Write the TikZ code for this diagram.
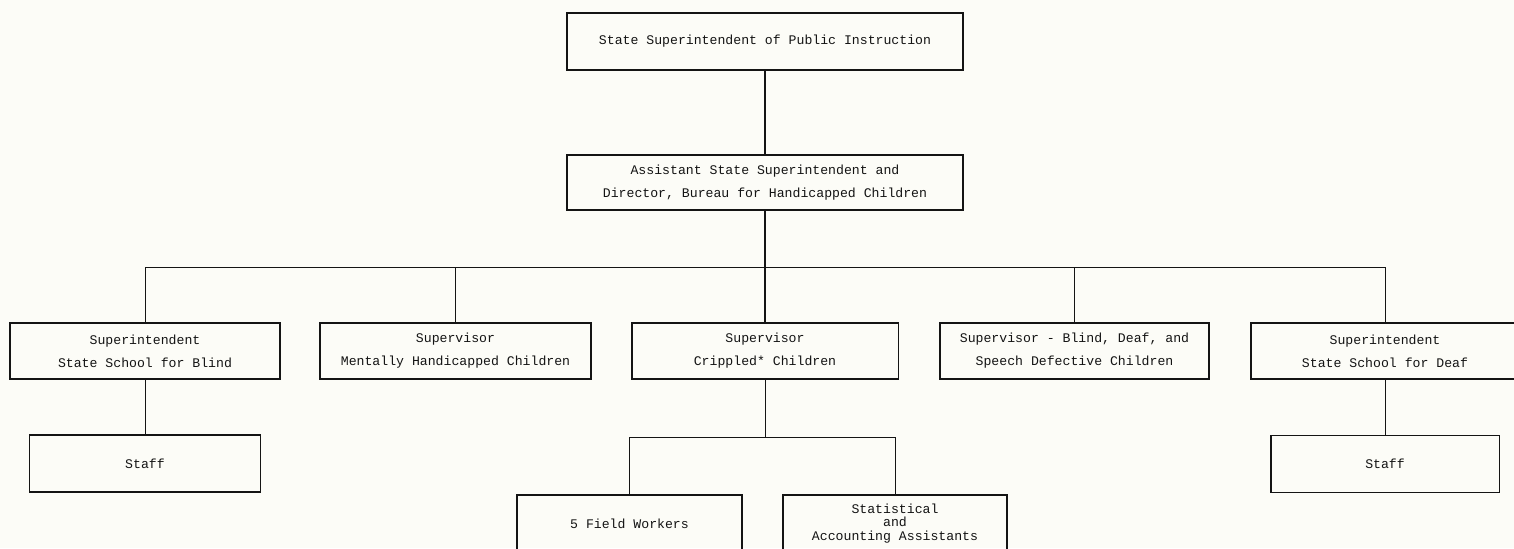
\documentclass[tikz,border=0pt]{standalone}
\usepackage{fontspec}
\setmonofont{Liberation Mono}
\usepackage{tikz}
\usetikzlibrary{positioning}
\usepackage{xcolor}
\definecolor{paper}{RGB}{252,252,247}
\definecolor{ink}{RGB}{20,20,20}

\begin{document}
\begin{tikzpicture}[x=0.02cm,y=-0.02cm,
  box/.style={draw=ink,line width=1.1pt,text=ink,align=center,inner sep=2pt,
    font=\ttfamily\fontsize{7.5}{13}\selectfont},
  link/.style={draw=ink,line width=0.55pt},
  spine/.style={draw=ink,line width=0.85pt}]
\useasboundingbox (0,0) rectangle (1514,548);
\fill[paper] (0,0) rectangle (1514,548);
\clip (0,0) rectangle (1514,548);
% top of the chart
\node[box,minimum width=7.92cm,minimum height=1.14cm] (top) at (765,41.5) {State Superintendent of Public Instruction};
\node[box,minimum width=7.92cm,minimum height=1.10cm] (asst) at (765,182.5) {Assistant State Superintendent and\\Director, Bureau for Handicapped Children};
% the five divisions
\node[box,minimum width=5.40cm,minimum height=1.12cm] (blind) at (145,351) {Superintendent\\State School for Blind};
\node[box,minimum width=5.42cm,minimum height=1.12cm] (mental) at (455.5,351) {Supervisor\\Mentally Handicapped Children};
\node[box,minimum width=5.34cm,minimum height=1.12cm] (crippled) at (765,351) {Supervisor\\Crippled* Children};
\node[box,minimum width=5.38cm,minimum height=1.12cm] (sdc) at (1074.5,351) {Supervisor - Blind, Deaf, and\\Speech Defective Children};
\node[box,minimum width=5.36cm,minimum height=1.12cm] (deaf) at (1385,351) {Superintendent\\State School for Deaf};
% staff and assistants
\node[box,minimum width=4.62cm,minimum height=1.14cm] (staffb) at (145,463.5) {Staff};
\node[box,minimum width=4.58cm,minimum height=1.14cm] (staffd) at (1385,464) {Staff};
\node[box,minimum width=4.50cm,minimum height=1.14cm] (field) at (629.5,523.5) {5 Field Workers};
\node[box,minimum width=4.48cm,minimum height=1.14cm,
  font=\ttfamily\fontsize{7.5}{7.8}\selectfont] (stat) at (895,523.5) {Statistical\\and\\Accounting Assistants};
% connectors
\coordinate (bus) at (765,267);
\coordinate (sub) at (765,437);
\draw[spine] (top) -- (asst);
\draw[spine] (asst) -- (bus);
\foreach \n in {blind,mental,sdc,deaf}
  \draw[link] (bus) -| (\n.north);
\draw[spine] (bus) -- (crippled);
\draw[link] (blind) -- (staffb);
\draw[link] (deaf) -- (staffd);
\draw[link] (crippled) -- (sub);
\draw[link] (sub) -| (field.north);
\draw[link] (sub) -| (stat.north);
\end{tikzpicture}
\end{document}
